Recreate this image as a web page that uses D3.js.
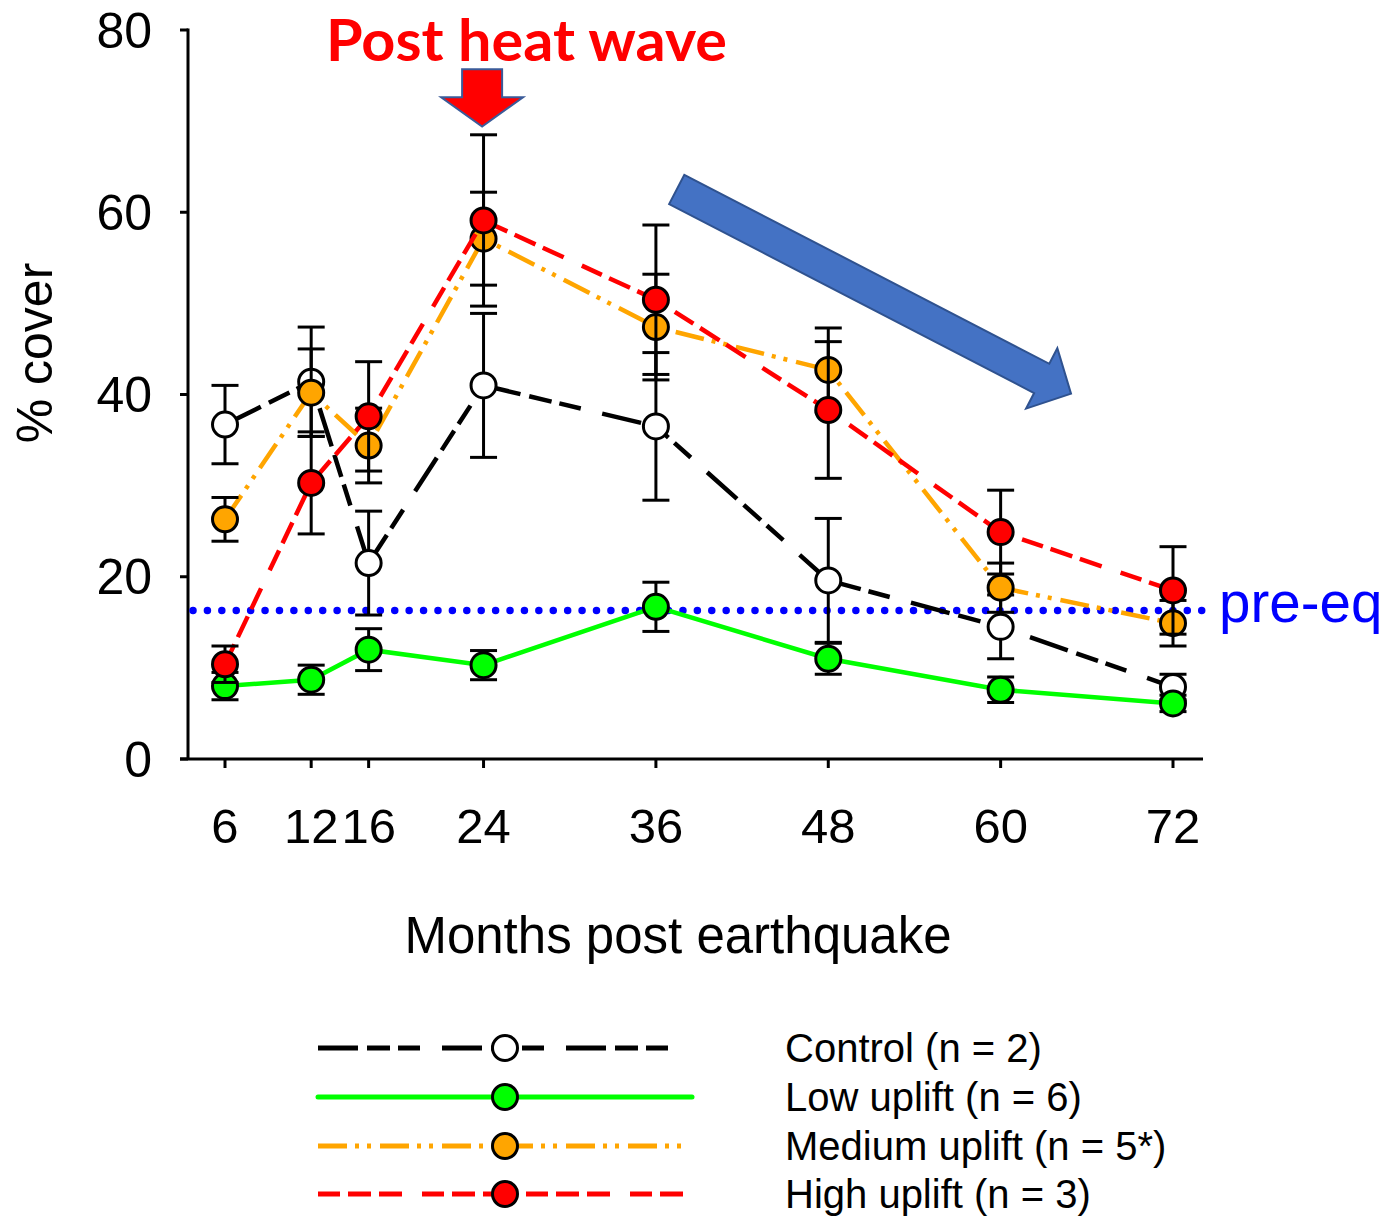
<!DOCTYPE html>
<html>
<head>
<meta charset="utf-8">
<script src="https://cdn.jsdelivr.net/npm/d3@7"></script>
<style>
  html, body { margin: 0; padding: 0; background: #ffffff; }
  svg { display: block; }
</style>
</head>
<body>
<svg id="chart" width="1386" height="1216"></svg>
<script>
// ---------------- data ----------------
const months = [6, 12, 16, 24, 36, 48, 60, 72];
const controlMean = [36.7, 41.4, 21.5, 41.0, 36.5, 19.6, 14.5, 7.9];
const controlErr  = [4.3, 6.0, 5.7, 7.9, 8.1, 6.8, 3.5, 1.4];
const lowMean     = [8.0, 8.7, 12.0, 10.3, 16.7, 11.0, 7.6, 6.1];
const lowErr      = [1.5, 1.6, 2.3, 1.6, 2.7, 1.7, 1.4, 0.9];
const mediumMean  = [26.3, 40.2, 34.4, 57.1, 47.4, 42.7, 18.8, 14.9];
const mediumErr   = [2.4, 4.8, 4.1, 5.1, 5.8, 4.6, 2.7, 2.5];
const highMean    = [10.4, 30.3, 37.6, 59.1, 50.4, 38.3, 24.9, 18.5];
const highErr     = [2.0, 5.6, 6.0, 9.4, 8.2, 7.5, 4.6, 4.8];
const yTicks = [0, 20, 40, 60, 80];
const xTicks = [6, 12, 16, 24, 36, 48, 60, 72];
const preEqValue = 16.3;
const seriesNames = ["Control (n = 2)", "Low uplift (n = 6)", "Medium uplift (n = 5*)", "High uplift (n = 3)"];
const xTitle = "Months post earthquake";
const yTitle = "% cover";
const heatLabel = "Post heat wave";
const preEqLabel = "pre-eq";
// annotation anchors in data units
const heatArrowMonth = 23.9, heatArrowTop = 75.7, heatArrowTip = 69.4;
const trendFromMonth = 37.45, trendFromValue = 62.5, trendToMonth = 64.9, trendToValue = 40.1;

// ---------------- styles ----------------
const styles = [
  { color: "#000000", fill: "#ffffff", dash: "40,9,23,8,22,22", legendEnd: 688 },
  { color: "#00ff00", fill: "#00ff00", dash: null, legendEnd: 692 },
  { color: "#ffa500", fill: "#ffa500", dash: "29,8,4,8,4,9", legendEnd: 688 },
  { color: "#ff0000", fill: "#ff0000", dash: "22,8,23,8,23,20", legendEnd: 688 }
];
const means = [controlMean, lowMean, mediumMean, highMean];
const errs = [controlErr, lowErr, mediumErr, highErr];

const svg = d3.select("#chart");
const FONT = "'Liberation Sans', Arial, sans-serif";

const x = d3.scaleLinear().domain([6, 72]).range([225, 1173]);
const y = d3.scaleLinear().domain([0, 80]).range([759, 30]);

const axisX = 188;
const axisLeft = 180, axisRight = 1203;

// ---------------- axes ----------------
const axes = svg.append("g").attr("stroke", "#000").attr("stroke-width", 3).attr("fill", "none");
axes.append("line").attr("x1", axisX).attr("x2", axisX).attr("y1", y(80) - 1.5).attr("y2", y(0));
axes.append("line").attr("x1", axisLeft).attr("x2", axisRight).attr("y1", y(0)).attr("y2", y(0));
axes.selectAll(".yt").data(yTicks).enter().append("line")
  .attr("x1", axisLeft).attr("x2", axisX).attr("y1", d => y(d)).attr("y2", d => y(d));
axes.selectAll(".xt").data(xTicks).enter().append("line")
  .attr("x1", d => x(d)).attr("x2", d => x(d)).attr("y1", y(0)).attr("y2", y(0) + 9);

svg.append("g").selectAll("text").data(yTicks).enter().append("text")
  .attr("x", 152).attr("y", d => y(d) + 17.5)
  .attr("text-anchor", "end").attr("font-family", FONT).attr("font-size", 50)
  .text(d => d);

svg.append("g").selectAll("text").data(xTicks).enter().append("text")
  .attr("x", d => x(d)).attr("y", 843)
  .attr("text-anchor", "middle").attr("font-family", FONT).attr("font-size", 49)
  .text(d => d);

svg.append("text").attr("x", 678).attr("y", 953)
  .attr("text-anchor", "middle").attr("font-family", FONT).attr("font-size", 51)
  .text(xTitle);

svg.append("text").attr("transform", "translate(52,353) rotate(-90)")
  .attr("text-anchor", "middle").attr("font-family", FONT).attr("font-size", 50)
  .text(yTitle);

// ---------------- pre-eq line ----------------
svg.append("line")
  .attr("x1", axisX + 5).attr("x2", axisRight + 2)
  .attr("y1", y(preEqValue)).attr("y2", y(preEqValue))
  .attr("stroke", "#0000ff").attr("stroke-width", 7.5)
  .attr("stroke-linecap", "round").attr("stroke-dasharray", "0.01,14.4");
svg.append("text").attr("x", 1219).attr("y", y(preEqValue) + 12)
  .attr("font-family", FONT).attr("font-size", 56.5).attr("fill", "#0000ff")
  .text(preEqLabel);

// ---------------- series ----------------
const line = d3.line().x(d => x(d.m)).y(d => y(d.v));
means.forEach((arr, si) => {
  const st = styles[si];
  const pts = months.map((m, i) => ({ m: m, v: arr[i], e: errs[si][i] }));
  const g = svg.append("g");
  g.append("path").datum(pts).attr("d", line)
    .attr("fill", "none").attr("stroke", st.color).attr("stroke-width", 4.5)
    .attr("stroke-dasharray", st.dash);
  const eb = g.append("g").attr("stroke", "#000").attr("stroke-width", 3);
  eb.selectAll(".v").data(pts).enter().append("line")
    .attr("x1", d => x(d.m)).attr("x2", d => x(d.m))
    .attr("y1", d => y(d.v + d.e)).attr("y2", d => y(d.v - d.e));
  eb.selectAll(".t").data(pts).enter().append("line")
    .attr("x1", d => x(d.m) - 13.5).attr("x2", d => x(d.m) + 13.5)
    .attr("y1", d => y(d.v + d.e)).attr("y2", d => y(d.v + d.e));
  eb.selectAll(".b").data(pts).enter().append("line")
    .attr("x1", d => x(d.m) - 13.5).attr("x2", d => x(d.m) + 13.5)
    .attr("y1", d => y(d.v - d.e)).attr("y2", d => y(d.v - d.e));
  g.selectAll("circle").data(pts).enter().append("circle")
    .attr("cx", d => x(d.m)).attr("cy", d => y(d.v)).attr("r", 12.5)
    .attr("fill", st.fill).attr("stroke", "#000").attr("stroke-width", 3);
});

// ---------------- annotations ----------------
// red heat-wave arrow
(function () {
  const cx = x(heatArrowMonth), top = y(heatArrowTop), tip = y(heatArrowTip);
  const bw = 20, hw = 41, hl = 29.4;
  const pts = [[cx - bw, top], [cx + bw, top], [cx + bw, tip - hl], [cx + hw, tip - hl],
               [cx, tip], [cx - hw, tip - hl], [cx - bw, tip - hl]];
  svg.append("polygon").attr("points", pts.map(p => p.join(",")).join(" "))
    .attr("fill", "#ff0000").attr("stroke", "#3b5b99").attr("stroke-width", 2);
})();

svg.append("text").attr("x", 326).attr("y", 61)
  .attr("font-family", "Lato, 'Open Sans', sans-serif").attr("font-weight", "bold")
  .attr("font-size", 57).attr("fill", "#ff0000")
  .attr("textLength", 401).attr("lengthAdjust", "spacingAndGlyphs")
  .text(heatLabel);

// blue trend arrow
(function () {
  const T = [x(trendFromMonth), y(trendFromValue)];
  const P = [x(trendToMonth), y(trendToValue)];
  const L = Math.hypot(P[0] - T[0], P[1] - T[1]);
  const u = [(P[0] - T[0]) / L, (P[1] - T[1]) / L];
  const n = [-u[1], u[0]];
  const bw = 16.5, hw = 34, hl = 33;
  const B = [P[0] - u[0] * hl, P[1] - u[1] * hl];
  const off = (p, k) => [p[0] + n[0] * k, p[1] + n[1] * k];
  const pts = [off(T, -bw), off(B, -bw), off(B, -hw), P, off(B, hw), off(B, bw), off(T, bw)];
  svg.append("polygon").attr("points", pts.map(p => p.join(",")).join(" "))
    .attr("fill", "#4472c4").attr("stroke", "#2f528f").attr("stroke-width", 2);
})();

// ---------------- legend ----------------
const legendRows = [1048, 1097, 1146, 1194];
const legend = svg.append("g");
seriesNames.forEach((name, i) => {
  const st = styles[i];
  const ry = legendRows[i];
  legend.append("line").attr("x1", 318).attr("x2", st.legendEnd).attr("y1", ry).attr("y2", ry)
    .attr("stroke", st.color).attr("stroke-width", 5)
    .attr("stroke-linecap", st.dash ? "butt" : "round")
    .attr("stroke-dasharray", st.dash);
  legend.append("circle").attr("cx", 505).attr("cy", ry).attr("r", 12.5)
    .attr("fill", st.fill).attr("stroke", "#000").attr("stroke-width", 3);
  legend.append("text").attr("x", 785).attr("y", ry + 14)
    .attr("font-family", FONT).attr("font-size", 40).text(name);
});
</script>
</body>
</html>
